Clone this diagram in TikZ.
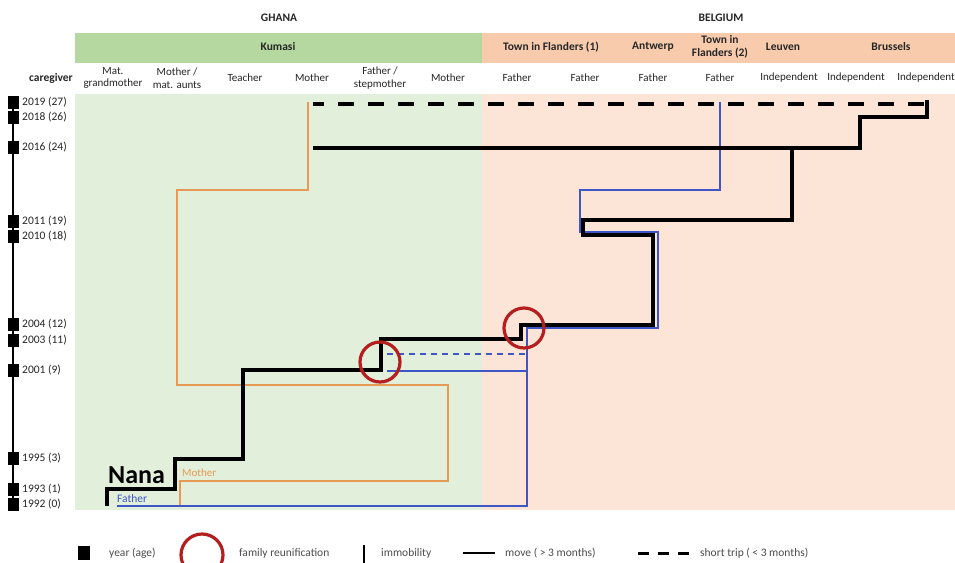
\documentclass[tikz,border=0pt]{standalone}
\usepackage{fontspec}
\setmainfont{Carlito}
\definecolor{hdrgreen}{HTML}{B5D8A0}
\definecolor{bodygreen}{HTML}{E2EFDA}
\definecolor{hdrorange}{HTML}{F8CBAD}
\definecolor{bodyorange}{HTML}{FCE4D6}
\definecolor{mline}{HTML}{E69A55}
\definecolor{fline}{HTML}{3F56C6}
\definecolor{reun}{HTML}{B41E1E}
\tikzset{
  lbl/.style={font=\fontsize{11}{12.5}\selectfont, align=center, inner sep=0pt, text=black!85},
  lblb/.style={lbl, font=\fontsize{11.5}{13}\selectfont\bfseries},
  yearlbl/.style={lbl, font=\fontsize{11.5}{13}\selectfont, anchor=west},
  leglbl/.style={font=\fontsize{11.5}{13}\selectfont, inner sep=0pt, anchor=west, text=black!70},
  yearsq/.style={fill=black, minimum width=11pt, minimum height=13pt, inner sep=0pt},
  nanapath/.style={line width=4.5pt, line join=miter},
  mumpath/.style={mline, line width=1.6pt},
  dadpath/.style={fline, line width=1.6pt},
  reunion/.style={circle, draw=reun, line width=3.2pt, minimum size=40pt, inner sep=0pt}
}
\begin{document}
\begin{tikzpicture}[x=1pt,y=-1pt]
\useasboundingbox (0,0) rectangle (955,562);
% backgrounds
\fill[white] (0,0) rectangle (955,562);
\fill[hdrgreen] (75,33) rectangle (482,63);
\fill[hdrorange] (482,33) rectangle (955,63);
\fill[bodygreen] (75,94) rectangle (482,510);
\fill[bodyorange] (482,94) rectangle (955,510);
% country labels
\node[lblb] (ghana) at (279,18) {GHANA};
\node[lblb] (belgium) at (721,18) {BELGIUM};
% city labels
\node[lblb] (kumasi) at (278,47) {Kumasi};
\node[lblb] (tif1) at (551,47) {Town in Flanders (1)};
\node[lblb] (antw) at (653,47) {Antwerp};
\node[lblb] (tif2) at (720,47) {Town in\\Flanders (2)};
\node[lblb] (leuv) at (783,47) {Leuven};
\node[lblb] (brus) at (891,47) {Brussels};
% caregivers
\node[lblb, anchor=east] (cg) at (73,78) {caregiver};
\node[lbl] (c1) at (113,78) {Mat.\\grandmother};
\node[lbl] (c2) at (177,78) {Mother /\\mat. aunts};
\node[lbl] (c3) at (245,78) {Teacher};
\node[lbl] (c4) at (312,78) {Mother};
\node[lbl] (c5) at (380,78) {Father /\\stepmother};
\node[lbl] (c6) at (448,78) {Mother};
\node[lbl] (c7) at (517,78) {Father};
\node[lbl] (c8) at (585,78) {Father};
\node[lbl] (c9) at (653,78) {Father};
\node[lbl] (c10) at (720,78) {Father};
\node[lbl] (c11) at (789,78) {Independent};
\node[lbl] (c12) at (856,78) {Independent};
\node[lbl] (c13) at (926,78) {Independent};
% timeline
\coordinate (tltop) at (13,96);
\coordinate (tlbot) at (13,511);
\draw[line width=2pt] (tltop) -- (tlbot);
\foreach \yy/\txt/\nm in {102/2019 (27)/y19, 117/2018 (26)/y18, 147/2016 (24)/y16, 221/2011 (19)/y11, 236/2010 (18)/y10, 324/2004 (12)/y04, 340/2003 (11)/y03, 370/2001 (9)/y01, 458/1995 (3)/y95, 489/1993 (1)/y93, 504/1992 (0)/y92}{
  \node[yearsq] (sq\nm) at (13,\yy) {};
  \node[yearlbl] (lb\nm) at (22,\yy) {\txt};
}
% mother path
\coordinate (m0) at (180,506);
\coordinate (m1) at (180,481);
\coordinate (m2) at (448,481);
\coordinate (m3) at (448,385);
\coordinate (m4) at (177,385);
\coordinate (m5) at (177,190);
\coordinate (m6) at (308,190);
\coordinate (m7) at (308,102);
\draw[mumpath] (m0) -- (m1) -- (m2) -- (m3) -- (m4) -- (m5) -- (m6) -- (m7);
% father path
\coordinate (f0) at (117,506);
\coordinate (f1) at (527,506);
\coordinate (f2) at (527,328);
\coordinate (f3) at (658,328);
\coordinate (f4) at (658,232);
\coordinate (f5) at (580,232);
\coordinate (f6) at (580,190);
\coordinate (f7) at (720,190);
\coordinate (f8) at (720,102);
\draw[dadpath] (f0) -- (f1) -- (f2) -- (f3) -- (f4) -- (f5) -- (f6) -- (f7) -- (f8);
\coordinate (fa) at (387,371);
\coordinate (fb) at (527,371);
\coordinate (fc) at (387,354);
\coordinate (fd) at (527,354);
\draw[dadpath] (fa) -- (fb);
\draw[dadpath, dash pattern=on 6pt off 5pt] (fc) -- (fd);
% Nana path
\coordinate (n0) at (107,506);
\coordinate (n1) at (107,489);
\coordinate (n2) at (175,489);
\coordinate (n3) at (175,459);
\coordinate (n4) at (243,459);
\coordinate (n5) at (243,370);
\coordinate (n6) at (381,370);
\coordinate (n7) at (381,339);
\coordinate (n8) at (521,339);
\coordinate (n9) at (521,325);
\coordinate (n10) at (653,325);
\coordinate (n11) at (653,235);
\coordinate (n12) at (583,235);
\coordinate (n13) at (583,220);
\coordinate (n14) at (792,220);
\coordinate (n15) at (792,148);
\draw[nanapath] (n0) -- (n1) -- (n2) -- (n3) -- (n4) -- (n5) -- (n6) -- (n7) -- (n8) -- (n9) -- (n10) -- (n11) -- (n12) -- (n13) -- (n14) -- (n15);
\coordinate (p0) at (313,148);
\coordinate (p1) at (860,148);
\coordinate (p2) at (860,117);
\coordinate (p3) at (927,117);
\coordinate (p4) at (927,100);
\draw[nanapath] (p0) -- (p1) -- (p2) -- (p3) -- (p4);
\coordinate (s0) at (313,104);
\coordinate (s1) at (927,104);
\draw[line width=4pt, dash pattern=on 16pt off 14pt, dash phase=5pt] (s0) -- (s1);
% labels in chart
\node[font=\fontsize{26}{27}\selectfont\bfseries, inner sep=0pt, anchor=base west] (nana) at (108,483) {Nana};
\node[font=\fontsize{11}{12}\selectfont, text=mline, inner sep=0pt, anchor=west] (mlab) at (182,473) {Mother};
\node[font=\fontsize{11.5}{12}\selectfont, text=fline, inner sep=0pt, anchor=west] (flab) at (117,499) {Father};
% reunifications
\node[reunion] (r1) at (380,362) {};
\node[reunion] (r2) at (524,328) {};
% legend
\node[yearsq, minimum width=12pt, minimum height=14pt] (lsq) at (84,553) {};
\node[leglbl] (ltx1) at (109,553) {year (age)};
\node[reunion, minimum size=42pt] (lcirc) at (202,555) {};
\node[leglbl] (ltx2) at (239,553) {family reunification};
\coordinate (lb0) at (364,545);
\coordinate (lb1) at (364,565);
\draw[line width=2.5pt] (lb0) -- (lb1);
\node[leglbl] (ltx3) at (381,553) {immobility};
\coordinate (lm0) at (463,553);
\coordinate (lm1) at (495,553);
\draw[line width=2.5pt] (lm0) -- (lm1);
\node[leglbl] (ltx4) at (505,553) {move ( > 3 months)};
\coordinate (ls0) at (638,553);
\coordinate (ls1) at (690,553);
\draw[line width=3pt, dash pattern=on 11pt off 9pt] (ls0) -- (ls1);
\node[leglbl] (ltx5) at (700,553) {short trip ( < 3 months)};
\end{tikzpicture}
\end{document}
